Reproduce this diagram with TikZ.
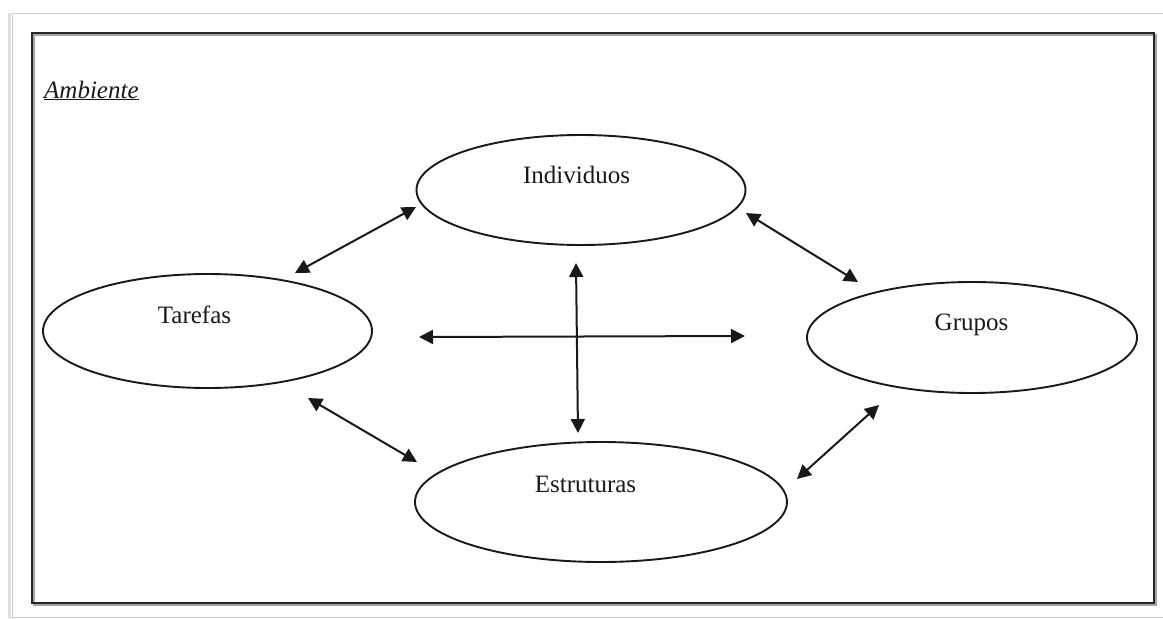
\documentclass[tikz,border=0pt]{standalone}
\usepackage{fontspec}
\setmainfont{Liberation Serif}
\usetikzlibrary{arrows.meta,shapes.geometric}
\begin{document}
\begin{tikzpicture}[x=1pt,y=-1pt,
  ell/.style={draw=black!90,line width=1.9pt,ellipse,inner sep=0pt},
  lbl/.style={anchor=base,inner sep=0pt,text=black!90,font=\fontsize{25}{30}\selectfont},
  link/.style={line width=2pt,draw=black!90,{Triangle[length=14pt,width=14pt]}-{Triangle[length=14pt,width=14pt]}}]
\useasboundingbox (0,0) rectangle (1163,619);
\fill[white] (0,0) rectangle (1163,619);
% outer page shadow frame
\draw[black!12,line width=3pt] (9,13) -- (9,619);
\draw[black!20,line width=1pt] (12,13) -- (1163,13);
\draw[black!20,line width=1pt] (12,13) -- (12,617) -- (1163,617);
% inner frame with shadow
\draw[black!35,line width=1.5pt] (34,35) rectangle (1156,605);
\draw[black!85,line width=1.6pt] (32,33) rectangle (1154,603);
% title
\node[anchor=base west,inner sep=0pt,text=black!90,font=\fontsize{25}{30}\selectfont\itshape] (amb) at (44,98) {\underline{Ambiente}};
% ellipses
\node[ell,minimum width=329pt,minimum height=110pt] (ind) at (581,190) {};
\node[ell,minimum width=329pt,minimum height=114pt] (tar) at (207.5,331) {};
\node[ell,minimum width=330pt,minimum height=111pt] (gru) at (972,337.5) {};
\node[ell,minimum width=372pt,minimum height=120pt] (est) at (601,502) {};
\node[lbl] (tind) at (576.5,183) {Individuos};
\node[lbl] (ttar) at (194.5,323) {Tarefas};
\node[lbl] (tgru) at (971.5,330) {Grupos};
\node[lbl] (test) at (585.5,492) {Estruturas};
% arrow end points
\coordinate (a1) at (295,273); \coordinate (a2) at (416,207);
\coordinate (b1) at (746,213); \coordinate (b2) at (858,282);
\coordinate (c1) at (308,398); \coordinate (c2) at (417,462);
\coordinate (d1) at (879,405); \coordinate (d2) at (797,479);
\coordinate (h1) at (419,337); \coordinate (h2) at (745,336);
\coordinate (v1) at (576,263); \coordinate (v2) at (578,433);
\draw[link] (a1) -- (a2);
\draw[link] (b1) -- (b2);
\draw[link] (c1) -- (c2);
\draw[link] (d1) -- (d2);
\draw[link] (h1) -- (h2);
\draw[link] (v1) -- (v2);
\end{tikzpicture}
\end{document}
